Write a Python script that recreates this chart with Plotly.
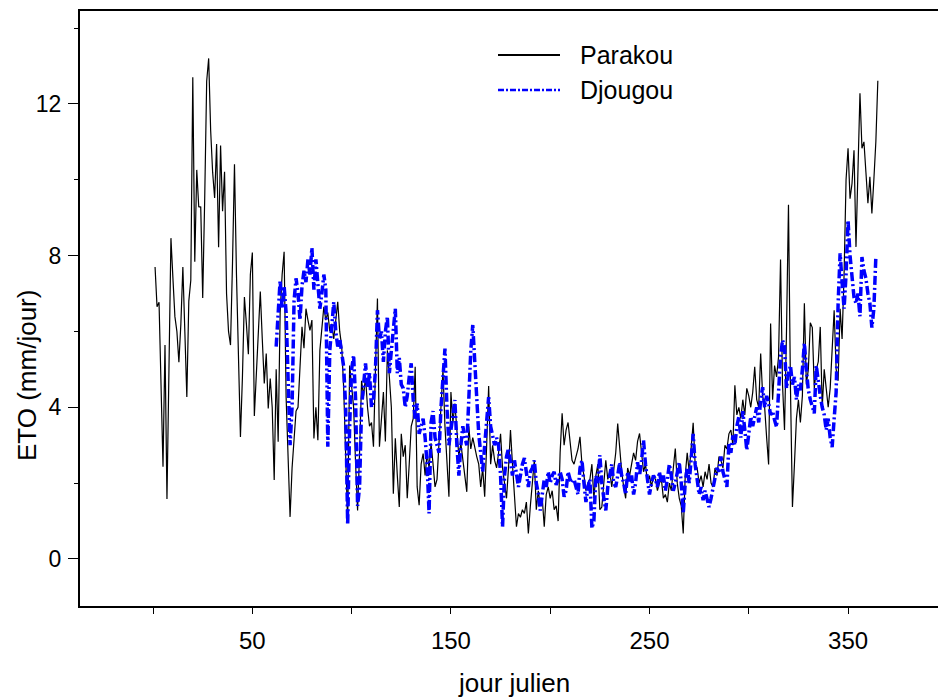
import plotly.graph_objects as go

# Parakou: daily ETo, day 1..365
parakou_days = list(range(1, 366))
parakou_eto = [
    7.7, 6.65, 6.77, 4.5, 2.43, 5.64, 1.58, 5.0, 8.46, 7.4,
    6.39, 6.0, 5.19, 6.2, 7.7, 6.0, 4.27, 6.8, 7.35, 12.7,
    7.84, 10.26, 9.29, 9.28, 6.88, 9.5, 12.6, 13.2, 11.3, 10.2,
    9.52, 10.94, 8.22, 10.9, 9.17, 10.21, 7.0, 6.0, 5.64, 7.8,
    10.41, 7.5, 5.0, 3.22, 4.8, 6.91, 6.2, 5.4, 7.5, 8.08,
    3.77, 4.8, 6.0, 7.05, 5.8, 4.63, 5.42, 3.97, 4.76, 4.0,
    2.08, 5.0, 3.09, 6.5, 7.5, 8.1, 4.27, 2.6, 1.11, 2.4,
    3.3, 3.9, 4.0, 5.2, 6.12, 5.56, 6.6, 6.3, 6.03, 6.3,
    3.18, 4.0, 3.13, 5.5, 6.0, 6.65, 6.3, 6.5, 6.0, 6.2,
    5.8, 6.4, 6.78, 6.0, 5.6, 4.5, 2.5, 0.95, 5.1, 4.6,
    4.0, 2.5, 1.28, 2.8, 4.7, 4.3, 4.8, 4.0, 3.5, 3.6,
    2.96, 5.0, 6.87, 2.96, 3.8, 4.4, 3.1, 5.5, 4.8, 4.0,
    1.72, 3.18, 2.2, 1.37, 3.3, 2.7, 3.0, 1.6, 2.5, 3.5,
    3.7, 5.07, 1.9, 1.42, 2.5, 2.78, 2.2, 2.78, 2.4, 3.05,
    2.5, 1.9, 2.1, 3.0, 4.0, 4.98, 3.5, 2.4, 1.64, 4.4,
    3.6, 4.1, 3.3, 2.7, 3.05, 2.6, 2.2, 1.77, 3.5, 2.9,
    3.2, 2.9, 2.7, 2.5, 1.9, 2.4, 1.64, 3.0, 4.56, 2.5,
    3.0, 2.6, 2.4, 2.8, 3.3, 2.4, 2.0, 1.6, 2.4, 3.4,
    2.5, 1.6, 0.85, 1.2, 1.1, 1.3, 1.2, 1.5, 0.67, 1.4,
    2.0, 2.6, 1.3, 1.8, 1.4, 1.6, 0.85, 1.7, 1.9, 1.6,
    1.8, 1.3, 1.4, 1.0, 2.8, 3.84, 3.0, 3.4, 3.6, 3.0,
    2.6, 2.5, 2.7, 2.9, 3.22, 2.5, 2.2, 1.8, 2.0, 2.1,
    2.5, 1.6, 2.2, 2.5, 1.3, 1.37, 2.0, 2.6, 2.1, 2.3,
    1.9, 2.4, 2.8, 3.57, 2.9, 2.3, 1.9, 1.6, 2.4, 2.2,
    2.5, 2.8, 2.6, 3.1, 3.31, 2.8, 2.3, 2.5, 2.0, 2.2,
    1.9, 2.2, 2.1, 1.8, 2.0, 2.1, 1.6, 1.7, 1.5, 2.0,
    1.8, 2.4, 2.91, 2.0, 1.6, 1.4, 0.67, 2.2, 2.8, 2.3,
    2.9, 3.59, 2.5, 2.4, 2.0, 2.2, 1.9, 2.3, 2.1, 2.5,
    2.0, 1.9, 2.4, 2.2, 2.7, 2.6, 2.4, 3.0, 2.9, 3.3,
    3.4, 3.0, 4.58, 3.8, 4.0, 3.7, 4.2, 3.8, 4.5, 4.3,
    4.0, 4.4, 5.07, 4.2, 4.0, 5.42, 4.3, 4.0, 3.2, 2.49,
    6.21, 4.2, 5.1, 4.8, 5.33, 7.9, 4.6, 3.4, 6.0, 9.34,
    4.5, 1.37, 2.5, 3.7, 4.2, 3.6, 4.3, 6.74, 4.6, 5.0,
    6.23, 6.1, 4.5, 5.0, 5.2, 6.12, 4.0, 5.0, 4.5, 4.0,
    4.5, 5.5, 6.56, 5.0, 4.7, 6.6, 5.8, 7.5, 10.0, 10.83,
    9.5, 9.9, 10.78, 8.23, 10.5, 12.28, 10.83, 11.0, 10.2, 9.38,
    10.08, 9.11, 10.0, 11.0, 12.61,
]

# Djougou: daily ETo, day 62..364
djougou_days = list(range(62, 365))
djougou_eto = [
    5.6, 6.5, 7.35, 6.6, 7.2, 6.5, 4.5, 3.0, 4.0,
    6.8, 7.4, 7.0, 6.3, 7.2, 7.6, 7.3, 7.9, 7.5, 8.2,
    7.1, 7.9, 7.2, 6.6, 7.0, 7.5, 7.1, 2.96, 5.5, 6.3,
    6.78, 6.0, 5.6, 5.8, 5.5, 5.07, 4.0, 0.9, 3.5, 5.0,
    5.37, 4.2, 1.4, 1.9, 4.0, 4.6, 5.16, 4.5, 4.9, 4.0,
    4.2, 5.0, 6.56, 5.8, 6.0, 5.2, 6.0, 6.39, 4.9, 5.5,
    6.2, 6.6, 4.9, 5.3, 4.6, 4.5, 4.0, 4.3, 4.8, 5.16,
    4.2, 3.7, 4.1, 3.3, 3.5, 3.7, 3.2, 2.5, 1.2, 3.6,
    3.9, 3.2, 3.0, 2.8, 4.0, 4.8, 5.55, 4.0, 3.0, 3.4,
    3.8, 4.19, 3.0, 2.2, 3.0, 3.5, 3.2, 3.0, 4.2, 5.5,
    6.17, 5.1, 4.2, 3.3, 2.8, 2.3, 3.0, 3.6, 4.27, 3.5,
    3.2, 3.0, 3.2, 3.0, 2.2, 0.85, 2.2, 2.7, 2.92, 2.6,
    2.2, 2.6, 2.2, 1.9, 2.2, 2.5, 2.66, 2.2, 1.9, 2.3,
    2.4, 2.6, 2.0, 1.73, 1.28, 1.7, 2.1, 1.9, 2.3, 2.0,
    2.2, 2.3, 1.95, 2.1, 2.3, 2.1, 1.64, 1.8, 2.3, 2.1,
    2.0, 2.1, 1.9, 1.7, 2.4, 2.6, 2.0, 1.5, 1.9, 2.1,
    0.81, 1.0, 2.2, 2.0, 2.74, 2.0, 1.6, 1.28, 1.9, 2.2,
    2.5, 2.0, 1.9, 2.2, 2.55, 2.2, 2.0, 1.7, 2.3, 2.0,
    2.2, 1.7, 2.0, 2.55, 2.2, 2.6, 3.13, 2.5, 2.0, 1.7,
    2.0, 2.2, 2.1, 1.9, 2.3, 2.0, 2.2, 1.8, 2.1, 2.5,
    2.2, 1.8, 2.0, 2.3, 2.55, 2.0, 1.2, 2.0, 2.4, 2.0,
    2.55, 3.3, 2.5, 2.0, 1.7, 1.9, 1.55, 1.8, 1.6, 1.37,
    1.6, 1.9, 2.16, 2.4, 2.3, 2.7, 2.3, 2.1, 1.9, 3.05,
    2.8, 3.26, 3.0, 3.5, 3.75, 3.2, 3.9, 3.4, 2.87, 3.3,
    3.75, 3.5, 3.8, 4.0, 3.6, 4.2, 4.53, 4.0, 4.3, 4.1,
    3.8, 3.9, 3.66, 3.48, 4.4, 5.33, 5.77, 5.6, 4.5, 4.9,
    5.1, 4.6, 4.8, 4.2, 4.6, 4.45, 5.0, 5.69, 5.0, 4.45,
    4.2, 4.0, 3.84, 5.1, 4.6, 4.3, 4.0, 3.8, 3.4, 3.7,
    3.2, 2.95, 3.7, 4.4, 6.74, 8.06, 7.3, 6.6, 7.5, 8.93,
    8.0, 7.4, 6.9, 6.74, 7.0, 6.4, 7.96, 7.6, 7.4, 7.0,
    6.74, 6.1, 6.6, 7.96,
]

series_names = ["Parakou", "Djougou"]
x_ticks = [50, 150, 250, 350]
y_ticks = [0, 4, 8, 12]
x_title = "jour julien"
y_title = "ETO (mm/jour)"

FONT = "Liberation Sans, Arial, sans-serif"
# plot area in pixels: left 80, right 938, top 11, bottom 606
PL, PR, PT, PB = 80, 938, 11, 606
W, H = PR - PL, PB - PT


def px(x):
    return (x - PL) / W


def py(y):
    return (PB - y) / H


fig = go.Figure()
fig.add_trace(go.Scatter(
    x=parakou_days, y=parakou_eto, mode="lines", name=series_names[0],
    line=dict(color="black", width=1.2), showlegend=False,
))
fig.add_trace(go.Scatter(
    x=djougou_days, y=djougou_eto, mode="lines", name=series_names[1],
    line=dict(color="rgb(0,0,255)", width=3.5, dash="9px,3px,2px,3px"),
    showlegend=False,
))

# Manual legend (line samples + labels)
fig.add_shape(type="line", xref="paper", yref="paper",
              x0=px(498), x1=px(560), y0=py(55), y1=py(55),
              line=dict(color="black", width=2))
fig.add_shape(type="line", xref="paper", yref="paper",
              x0=px(498), x1=px(560), y0=py(90), y1=py(90),
              line=dict(color="rgb(0,0,255)", width=2.5, dash="6px,2px,2px,2px"))
for name, yy in zip(series_names, [55, 90]):
    fig.add_annotation(text=name, xref="paper", yref="paper",
                       x=px(578), y=py(yy),
                       xanchor="left", yanchor="middle", showarrow=False,
                       font=dict(family=FONT, size=25, color="black"))

# Axis titles
fig.add_annotation(text=x_title, xref="paper", yref="paper",
                   x=px(514), y=py(683), xanchor="center", yanchor="middle",
                   showarrow=False, font=dict(family=FONT, size=26, color="black"))
fig.add_annotation(text=y_title, xref="paper", yref="paper",
                   x=px(27), y=py(376), xanchor="center", yanchor="middle",
                   textangle=-90, showarrow=False,
                   font=dict(family=FONT, size=26, color="black"))

fig.update_layout(
    width=938, height=698,
    margin=dict(l=PL, r=0, t=PT, b=698 - PB),
    paper_bgcolor="white", plot_bgcolor="white",
    font=dict(family=FONT, size=20, color="black"),
    xaxis=dict(
        range=[-36.8, 395.3], tickvals=x_ticks, ticks="outside", ticklen=6,
        tickwidth=1, tickcolor="black", showgrid=False, zeroline=False,
        showline=True, linecolor="black", linewidth=2, mirror=True,
        tickfont=dict(size=24), ticklabelstandoff=6,
        minor=dict(tick0=0, dtick=50, ticks="outside", ticklen=6,
                   tickcolor="black", showgrid=False),
    ),
    yaxis=dict(
        range=[-1.24, 14.45], tickvals=y_ticks, ticks="outside", ticklen=10,
        tickwidth=1, tickcolor="black", showgrid=False, zeroline=False,
        showline=True, linecolor="black", linewidth=2,
        tickfont=dict(size=23), ticklabelstandoff=2,
        minor=dict(tick0=0, dtick=2, ticks="outside", ticklen=4,
                   tickcolor="black", showgrid=False),
    ),
)

fig.write_html("out.html")
